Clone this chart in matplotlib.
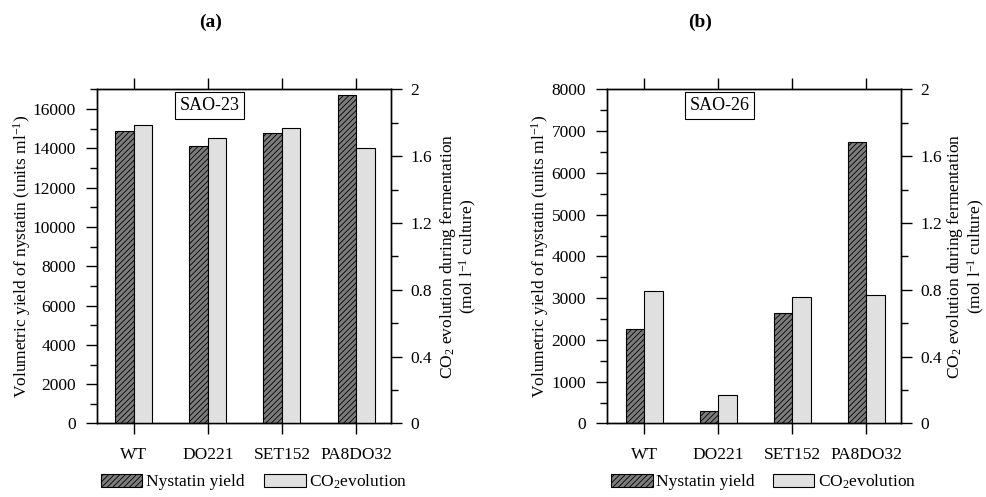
import matplotlib.pyplot as plt
from matplotlib.patches import Patch
from matplotlib.ticker import MultipleLocator
import numpy as np

plt.rcParams['font.family'] = ['Liberation Serif', 'DejaVu Serif']
plt.rcParams['mathtext.fontset'] = 'custom'
plt.rcParams['mathtext.rm'] = 'Liberation Serif'
plt.rcParams['mathtext.it'] = 'Liberation Serif:italic'
plt.rcParams['hatch.linewidth'] = 0.6

# Data
strains = ['WT', 'DO221', 'SET152', 'PA8DO32']
nystatin_a = [14900, 14130, 14760, 16710]
co2_a = [1.786, 1.707, 1.768, 1.649]
nystatin_b = [2270, 300, 2650, 6750]
co2_b = [0.792, 0.168, 0.756, 0.772]

panels = [
    dict(title='(a)', tag='SAO-23', nys=nystatin_a, co2=co2_a, ymax=17000,
         major=2000, minor=1000, left=0.098, tx=0.213, lab_l=-0.255, lab_r=1.23,
         leg_x=(0.102, 0.2675)),
    dict(title='(b)', tag='SAO-26', nys=nystatin_b, co2=co2_b, ymax=8000,
         major=1000, minor=500, left=0.615, tx=0.709, lab_l=-0.228, lab_r=1.22,
         leg_x=(0.619, 0.783)),
]

dark_fc = '#7c7c7c'
light_fc = '#e0e0e0'
w = 0.25

fig = plt.figure(figsize=(9.87, 4.97), dpi=100)

for p in panels:
    ax = fig.add_axes([p['left'], 0.148, 0.298, 0.672])
    ax2 = ax.twinx()
    x = np.arange(len(strains))

    ax.bar(x - w / 2, p['nys'], width=w, facecolor=dark_fc, edgecolor='black',
           hatch='//////', linewidth=0.8)
    ax2.bar(x + w / 2, p['co2'], width=w, facecolor=light_fc,
            edgecolor='black', linewidth=0.8)

    ax.set_xlim(-0.5, 3.47)
    ax.set_ylim(0, p['ymax'])
    ax2.set_ylim(0, 2)
    ax.yaxis.set_major_locator(MultipleLocator(p['major']))
    ax.yaxis.set_minor_locator(MultipleLocator(p['minor']))
    ax2.yaxis.set_major_locator(MultipleLocator(0.4))
    ax2.yaxis.set_minor_locator(MultipleLocator(0.2))
    ax2.yaxis.set_major_formatter(lambda v, pos: '0' if v == 0 else ('2' if abs(v - 2) < 1e-9 else f'{v:.1f}'))

    ax.set_xticks(x)
    ax.set_xticklabels(strains, fontsize=12.5)
    ax.tick_params(axis='x', which='both', top=True, direction='out',
                   length=8, pad=9, width=1)
    ax.tick_params(axis='y', which='major', direction='out', length=8,
                   pad=7, width=1, labelsize=12.5)
    ax.tick_params(axis='y', which='minor', direction='out', length=5, width=1)
    ax2.tick_params(axis='y', which='major', direction='out', length=8,
                    pad=6, width=1, labelsize=12.5)
    ax2.tick_params(axis='y', which='minor', direction='out', length=5, width=1)
    for sp in list(ax.spines.values()) + list(ax2.spines.values()):
        sp.set_linewidth(1)

    ax.set_ylabel('Volumetric yield of nystatin (units ml$^{-1}$)', fontsize=12.5)
    ax.yaxis.label.set_va('center')
    ax.yaxis.set_label_coords(p['lab_l'], 0.5)
    ax2.set_ylabel('CO$_2$ evolution during fermentation\n(mol l$^{-1}$ culture)',
                   fontsize=12.5, linespacing=1.05)
    ax2.yaxis.label.set_va('center')
    ax2.yaxis.set_label_coords(p['lab_r'], 0.5)

    ax.text(0.383, 0.952, p['tag'], transform=ax.transAxes, ha='center',
            va='center', fontsize=13,
            bbox=dict(boxstyle='square,pad=0.25', fc='white', ec='black', lw=0.8))

    fig.text(p['tx'], 0.956, p['title'], ha='center', va='center',
             fontsize=14, fontweight='bold')

    handles = [Patch(facecolor=dark_fc, edgecolor='black', hatch='//////', lw=0.8),
               Patch(facecolor=light_fc, edgecolor='black', lw=0.8)]
    names = ['Nystatin yield', 'CO$_2$evolution']
    for h, name, lx in zip(handles, names, p['leg_x']):
        fig.legend([h], [name], loc='center left',
                   bbox_to_anchor=(lx, 0.03), bbox_transform=fig.transFigure,
                   frameon=False, fontsize=12.5, handlelength=2.4,
                   handleheight=0.8, handletextpad=0.2,
                   borderaxespad=0, borderpad=0)

fig.savefig('out.png', dpi=100)
